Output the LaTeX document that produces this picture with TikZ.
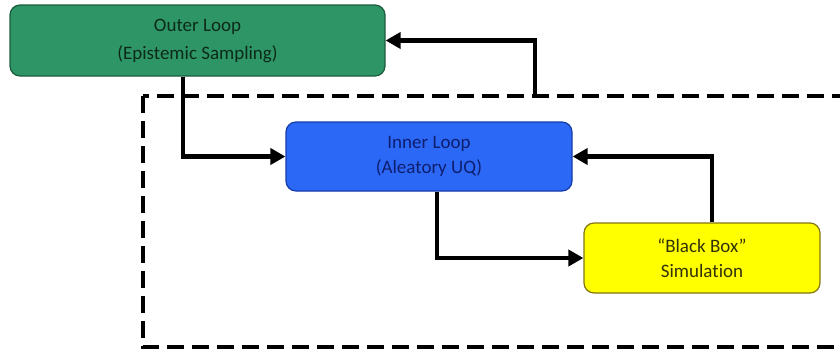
\documentclass[tikz,border=0pt]{standalone}
\usepackage{fontspec}
\setmainfont[Ligatures=NoCommon]{Carlito}
\usetikzlibrary{arrows.meta}
\definecolor{gfill}{RGB}{46,150,102}
\definecolor{gline}{RGB}{28,92,62}
\definecolor{gtext}{RGB}{12,42,26}
\definecolor{bfill}{RGB}{44,104,246}
\definecolor{bline}{RGB}{22,60,170}
\definecolor{btext}{RGB}{14,30,110}
\definecolor{yfill}{RGB}{255,255,0}
\definecolor{yline}{RGB}{130,118,20}
\definecolor{ytext}{RGB}{50,50,10}
\tikzset{
  box/.style={draw, line width=1.2pt, rounded corners=10pt, align=center,
    inner sep=0pt},
  arr/.style={line width=4.6pt, -{Triangle[length=15pt,width=16pt]}},
  frame/.style={line width=4.6pt, dash pattern=on 17pt off 8pt},
}
\begin{document}
\begin{tikzpicture}[x=1pt,y=-1pt]
\useasboundingbox (0,0) rectangle (840,354);
\begin{scope}
\clip (0,0) rectangle (840,354);
\draw[frame] (143,96) rectangle (870,347);
\end{scope}
\node[box, fill=gfill, draw=gline, text=gtext, font=\fontsize{19}{28}\selectfont, minimum width=375pt, minimum height=71pt] (outer) at (197.5,40.5) {Outer Loop\\(Epistemic Sampling)};
\node[box, fill=bfill, draw=bline, text=btext, font=\fontsize{19}{25}\selectfont, minimum width=286pt, minimum height=69pt] (inner) at (429,156.5) {Inner Loop\\(Aleatory UQ)};
\node[box, fill=yfill, draw=yline, text=ytext, font=\fontsize{19}{25}\selectfont, minimum width=236pt, minimum height=70pt] (bb) at (702,258) {“Black Box”\\Simulation};
\coordinate (c1) at (183,0);
\coordinate (c2) at (535,96);
\coordinate (c3) at (437,0);
\coordinate (c4) at (712,0);
\draw[arr] (outer.south -| c1) |- (inner.west);
\draw[arr] (c2) |- (outer.east);
\draw[arr] (inner.south -| c3) |- (bb.west);
\draw[arr] (bb.north -| c4) |- (inner.east);
\end{tikzpicture}
\end{document}
